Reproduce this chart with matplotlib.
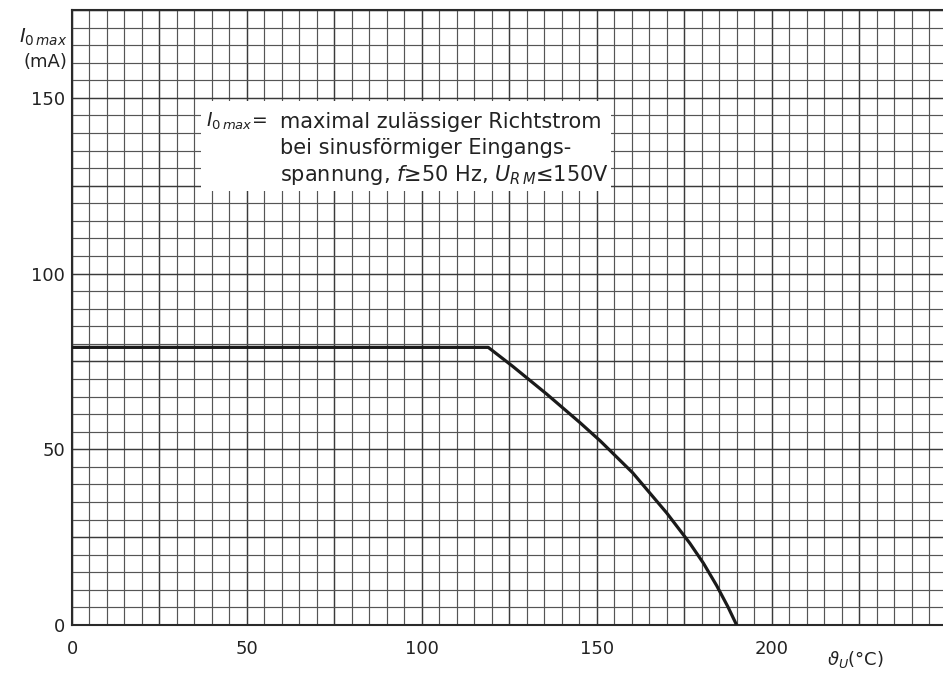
import matplotlib
matplotlib.use("Agg")
import matplotlib.pyplot as plt
from matplotlib.patches import Rectangle
import numpy as np

# Data
temp = [0, 119, 126, 135.6, 145.2, 151, 160.3, 170, 176.6, 180.5, 184.3, 187.5, 190]
i0max = [79, 79, 73.6, 65.8, 57.6, 52.4, 43.3, 31.9, 23.3, 17.6, 11.2, 5.2, 0]
xticks = [0, 50, 100, 150, 200]
yticks = [0, 50, 100, 150]

W, H = 943, 679
fig = plt.figure(figsize=(W / 100, H / 100), dpi=100)
ax = fig.add_axes([72 / W, 1 - 625 / H, (W - 72) / W, (625 - 10) / H])
ax.set_xlim(0, 249)
ax.set_ylim(0, 175)

# grid paper
for v in np.arange(0, 250, 5):
    major = (v % 25 == 0)
    ax.axvline(v, color="#3a3a3a" if major else "#555555",
               lw=1.05 if major else 0.85, zorder=1)
for v in np.arange(0, 176, 5):
    major = (v % 25 == 0)
    ax.axhline(v, color="#3a3a3a" if major else "#555555",
               lw=1.05 if major else 0.85, zorder=1)

for s in ["top", "left", "bottom"]:
    ax.spines[s].set_color("#2a2a2a")
    ax.spines[s].set_linewidth(1.5)
ax.spines["right"].set_visible(False)

ax.set_xticks(xticks)
ax.set_yticks(yticks)
ax.tick_params(length=0, labelsize=13, colors="#222222")
ax.tick_params(axis="x", pad=11)
ax.tick_params(axis="y", pad=5)

# curve
ax.plot(temp, i0max, color="#1a1a1a", lw=2.3, zorder=5, solid_joinstyle="round")

# annotation box
ax.add_patch(Rectangle((37, 123.5), 117, 25.7, facecolor="white",
                       edgecolor="none", zorder=3))
fs = 15
ax.text(38.2, 143.2, r"$I_{0\,max}$=", fontsize=13.5, va="center", ha="left",
        zorder=6, color="#222222")
ax.text(59.4, 143.2, "maximal zulässiger Richtstrom", fontsize=fs,
        va="center", ha="left", zorder=6, color="#222222")
ax.text(59.4, 135.6, "bei sinusförmiger Eingangs-", fontsize=fs,
        va="center", ha="left", zorder=6, color="#222222")
ax.text(59.4, 128.1, r"spannung, $f$≥50 Hz, $U_{R\,M}$≤150V", fontsize=fs,
        va="center", ha="left", zorder=6, color="#222222")

# axis labels
fig.text(67 / W, 1 - 37 / H, r"$I_{0\,max}$", fontsize=14, ha="right",
         va="center", color="#222222")
fig.text(67 / W, 1 - 62 / H, "(mA)", fontsize=13, ha="right",
         va="center", color="#222222")
fig.text(827 / W, 1 - 660 / H, r"$\vartheta_U$(°C)", fontsize=13, ha="left",
         va="center", color="#222222")

fig.savefig("out.png", dpi=100)
